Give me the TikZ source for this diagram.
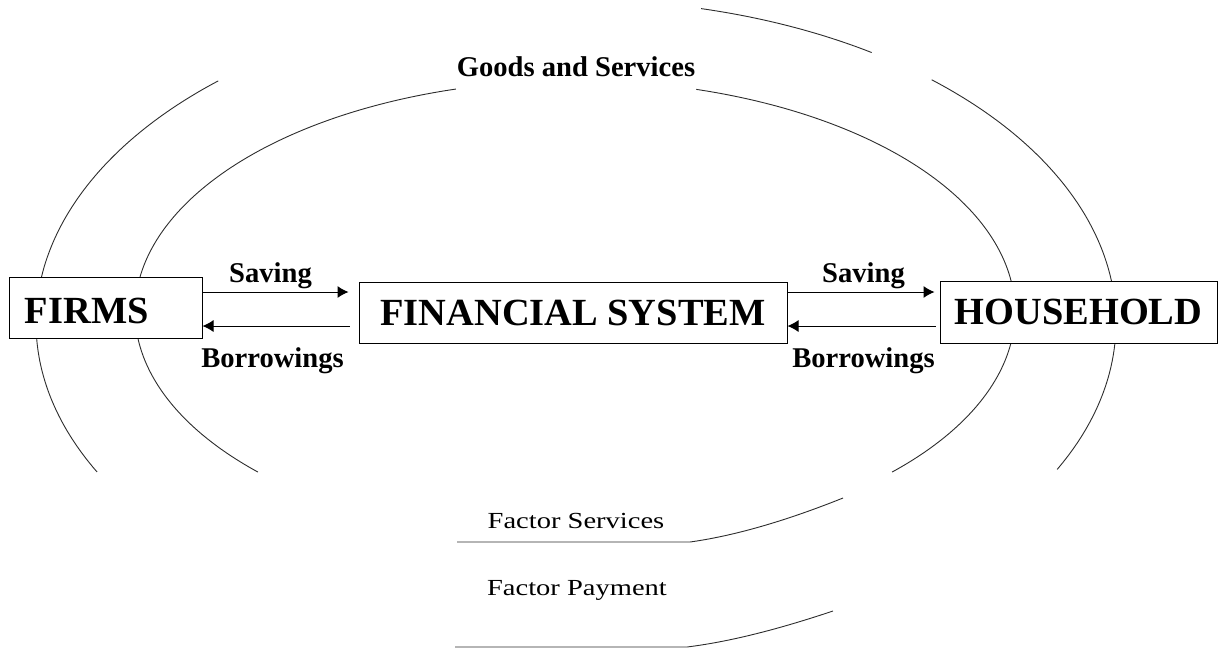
\documentclass[tikz,border=0pt]{standalone}
\usepackage{fontspec}
\setmainfont{Liberation Serif}
\newfontfamily\factorfont[FakeStretch=1.24]{Liberation Serif}
\usepackage{tikz}
\usepackage{xcolor}
\usetikzlibrary{arrows.meta}
\definecolor{ArcGray}{RGB}{45, 45, 45}

\begin{document}
\begin{tikzpicture}[x = 0.5pt, y = -0.5pt,
        box/.style = {draw, fill = white, line width = 0.5pt, inner sep = 0pt,
            minimum height = 30.5pt, font = \fontsize{19.2}{22}\selectfont\bfseries},
        flow/.style = {draw, line width = 0.5pt, -{Latex[length = 5.5pt, width = 6pt]}},
        lbl/.style = {inner sep = 1.5pt, font = \fontsize{14.3}{17}\selectfont\bfseries},
        factor/.style = {anchor = base, font = \factorfont\fontsize{11.5}{14}\selectfont},
        orbit/.style = {ArcGray, line width = 0.45pt}]
    \useasboundingbox (0, 0) rectangle (1218, 649);
    %画内圈
    \draw[orbit] plot[domain = 136.1:254.3, samples = 90, smooth] ({575 + 440*cos(\x)}, {311.7 + 231.3*sin(\x)});
    \draw[orbit] plot[domain = -74:43.9, samples = 90, smooth] ({575 + 440*cos(\x)}, {311.7 + 231.3*sin(\x)});
    \draw[orbit] (457, 542) -- (690, 542) .. controls (740, 535) and (793, 518) .. (843, 498);
    %画外圈
    \draw[orbit] plot[domain = 152.5:228.5, samples = 90, smooth] ({576 + 540*cos(\x)}, {322.8 + 323*sin(\x)});
    \draw[orbit] plot[domain = -76.6:-56.8, samples = 30, smooth] ({576 + 540*cos(\x)}, {322.8 + 323*sin(\x)});
    \draw[orbit] plot[domain = -48.8:27, samples = 90, smooth] ({576 + 540*cos(\x)}, {322.8 + 323*sin(\x)});
    \draw[orbit] (455, 647) -- (687, 647) .. controls (735, 641) and (785, 627) .. (833, 611);
    %画方框
    \node[box, text width = 80.5pt, text height = 16.2pt, align = left, inner xsep = 8pt] (firms) at (105.5, 307.5) {FIRMS};
    \node[box, minimum width = 214pt] (fs) at (573, 312.5) {FINANCIAL SYSTEM};
    \node[box, minimum width = 138.5pt, minimum height = 31pt] (hh) at (1078.5, 312) {HOUSEHOLD};
    %标注箭头
    \draw[flow, shorten > = 5pt] (firms.east |- 0, 292) -- node[lbl, above, xshift = -5pt] (sv1) {Saving} (fs.west |- 0, 292);
    \draw[flow, shorten < = 4.5pt] (fs.west |- 0, 326) -- node[lbl, below = 9pt, xshift = -4pt] (br1) {Borrowings} (firms.east |- 0, 326);
    \draw[flow, shorten > = 2.5pt] (fs.east |- 0, 292) -- node[lbl, above] (sv2) {Saving} (hh.west |- 0, 292);
    \draw[flow, shorten < = 2pt] (hh.west |- 0, 326) -- node[lbl, below = 9pt] (br2) {Borrowings} (fs.east |- 0, 326);
    %标注文字
    \node[lbl, anchor = base, inner sep = 0pt] (goods) at (576, 76) {Goods and Services};
    \node[factor] (fsv) at (576, 528) {Factor Services};
    \node[factor] (fpay) at (577, 595) {Factor Payment};
\end{tikzpicture}
\end{document}
